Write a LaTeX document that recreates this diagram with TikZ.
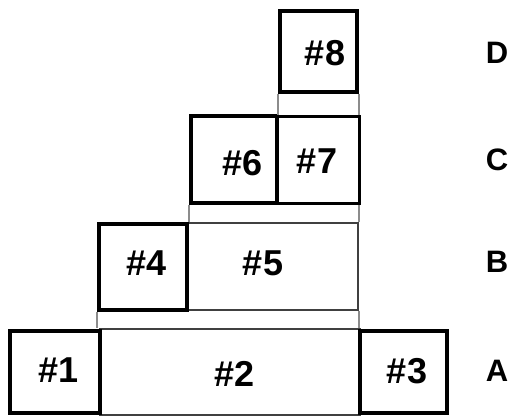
\documentclass[tikz,border=0pt]{standalone}
\usepackage{fontspec}
\setmainfont{Liberation Sans}
\begin{document}
\begin{tikzpicture}[x=1pt, y=-1pt, font=\bfseries]
    \tikzstyle{slot}=[draw=black!75, line width=1.6pt, minimum width=#1, inner sep=0pt]
    \tikzstyle{piece}=[draw, line width=4.5pt, minimum width=#1, inner sep=0pt]
    \tikzstyle{link}=[draw=black!45, line width=1.6pt]
    \tikzstyle{num}=[font=\fontsize{36}{36}\bfseries\selectfont, inner sep=0pt]
    \tikzstyle{row}=[font=\fontsize{31}{31}\bfseries\selectfont, inner sep=0pt]
    \useasboundingbox (0,0) rectangle (510,416);
    % open slots
    \node[slot=260pt, minimum height=86pt] (b2) at (230,372) {};
    \node[slot=171pt, minimum height=87pt] (b5) at (272.5,266.5) {};
    % rows A to D
    \node[piece=90pt, minimum height=82pt] (b1) at (55,372) {};
    \node[piece=87pt, minimum height=82pt] (b3) at (403.5,372) {};
    \node[piece=88pt, minimum height=86pt] (b4) at (143,267) {};
    \node[piece=86pt, minimum height=87pt] (b6) at (234,159.5) {};
    \node[piece=82pt, minimum height=87pt, line width=3pt] (b7) at (318,159.5) {};
    \node[piece=77pt, minimum height=81pt] (b8) at (318.5,51.5) {};
    % links between rows
    \draw[link] (b4.south west) -- (b4.south west |- b2.north);
    \draw[link] (b5.south east) -- (b5.south east |- b2.north);
    \draw[link] (b6.south west) -- (b6.south west |- b5.north);
    \draw[link] (b5.north east) -- (b5.north east |- b7.south);
    \draw[link] (b8.south west) -- (b8.south west |- b7.north);
    \draw[link] (b8.south east) -- (b8.south east |- b7.north);
    % numbers
    \node[num] (t1) at (59,370) {\#1};
    \node[num] (t2) at (235,374) {\#2};
    \node[num] (t3) at (407,371) {\#3};
    \node[num] (t4) at (147,263) {\#4};
    \node[num] (t5) at (263,263) {\#5};
    \node[num] (t6) at (243,163) {\#6};
    \node[num] (t7) at (317,161) {\#7};
    \node[num] (t8) at (325,53) {\#8};
    % row names
    \node[row] (rD) at (497,53) {D};
    \node[row] (rC) at (497,160) {C};
    \node[row] (rB) at (497,262) {B};
    \node[row] (rA) at (497,371) {A};
\end{tikzpicture}
\end{document}
